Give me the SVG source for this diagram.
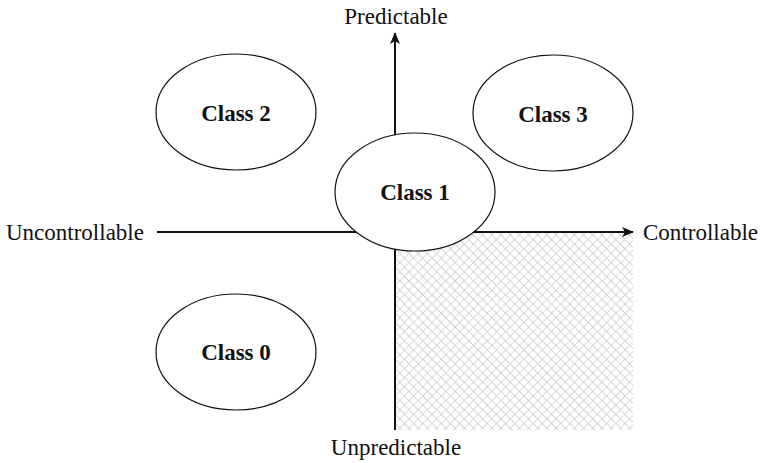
<svg xmlns="http://www.w3.org/2000/svg" width="763" height="463" viewBox="0 0 763 463">
  <style>
    .axis { stroke: #111; stroke-width: 2; fill: none; }
    .node ellipse { fill: #fff; stroke: #111; stroke-width: 1.2; }
    .node text { font-family: "Liberation Serif", "Times New Roman", serif; font-weight: bold; font-size: 23px; fill: #111; text-anchor: middle; }
    .label { font-family: "Liberation Serif", "Times New Roman", serif; font-size: 23px; fill: #111; }
  </style>
  <defs>
    <pattern id="crosshatch" patternUnits="userSpaceOnUse" width="6.5" height="6.5" patternTransform="rotate(45)">
      <path d="M0,0 H6.5 M0,0 V6.5" stroke="#c4c4c4" stroke-width="1.2"/>
    </pattern>
    <marker id="arrow" viewBox="0 0 12 10" refX="11" refY="5" markerWidth="12" markerHeight="10" markerUnits="userSpaceOnUse" orient="auto">
      <path d="M0,0 L12,5 L0,10 L3,5 Z" fill="#111"/>
    </marker>
  </defs>

  <rect width="763" height="463" fill="#fff"/>

  <!-- shaded quadrant: controllable but unpredictable -->
  <rect x="396" y="233" width="237" height="197" fill="url(#crosshatch)"/>

  <g id="connectors">
    <line class="axis" x1="395" y1="430" x2="395" y2="33" marker-end="url(#arrow)"/>
    <line class="axis" x1="157" y1="232" x2="633" y2="232" marker-end="url(#arrow)"/>
  </g>

  <text class="label" x="396" y="24" text-anchor="middle">Predictable</text>
  <text class="label" x="396" y="455" text-anchor="middle">Unpredictable</text>
  <text class="label" x="6" y="240">Uncontrollable</text>
  <text class="label" x="643" y="240">Controllable</text>

  <g id="class2" class="node">
    <ellipse cx="236" cy="112" rx="80" ry="58"/>
    <text x="236" y="121">Class 2</text>
  </g>
  <g id="class3" class="node">
    <ellipse cx="553" cy="113" rx="80" ry="58"/>
    <text x="553" y="122">Class 3</text>
  </g>
  <g id="class1" class="node">
    <ellipse cx="415" cy="192" rx="80" ry="59"/>
    <text x="415" y="200">Class 1</text>
  </g>
  <g id="class0" class="node">
    <ellipse cx="236" cy="352" rx="80" ry="58"/>
    <text x="236" y="360">Class 0</text>
  </g>
</svg>
